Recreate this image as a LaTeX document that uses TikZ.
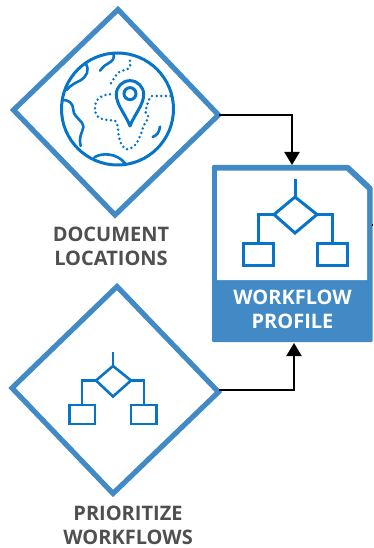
\documentclass[tikz,border=0pt]{standalone}
\usepackage{fontspec}
\setmainfont{Open Sans}
\usetikzlibrary{arrows.meta}
\definecolor{frameblue}{HTML}{428AC6}
\definecolor{iconblue}{HTML}{0674C8}
\definecolor{labelgray}{HTML}{4F4F4F}
\tikzset{
  frame/.style={draw=frameblue,line width=5.2pt,miter limit=10,line join=miter},
  icon/.style={draw=iconblue,line width=3pt,line join=miter,fill=none},
  thinicon/.style={draw=iconblue,line width=2.6pt,line join=miter,fill=none},
  coast/.style={draw=iconblue,line width=2.6pt,line cap=round,line join=round},
  dots/.style={draw=iconblue,line width=2.8pt,line cap=round,dash pattern=on 0pt off 4.6pt},
  link/.style={draw=black,line width=2pt,-{Triangle[length=13pt,width=15pt]}},
  caption/.style={text=labelgray,font=\bfseries\fontsize{20}{24}\selectfont,align=center,inner sep=0pt},
  bandtext/.style={text=white,font=\bfseries\fontsize{20}{24}\selectfont,align=center,inner sep=0pt}
}
\begin{document}
\begin{tikzpicture}[x=1pt,y=-1pt]
\useasboundingbox (0,0) rectangle (373,548);
% diamonds
\coordinate (d1r) at (219,115);
\coordinate (d2r) at (219,389.5);
\draw[frame] (118,9.5) -- (218.5,115) -- (115,215) -- (13.5,110) -- cycle;
\draw[frame] (117,286.5) -- (218.5,392) -- (113,493.5) -- (12,388) -- cycle;
% document
\coordinate (doctop) at (292,165);
\coordinate (docbot) at (294,343);
\fill[frameblue,rounded corners=1pt] (212,165) -- (349,165) -- (372.5,187) -- (372.5,342) -- (212,342) -- cycle;
\fill[white] (217,170.5) -- (346,170.5) -- (367,190) -- (367,280) -- (217,280) -- cycle;
% connectors
\draw[link] (d1r) -- (292,115) -- (doctop);
\draw[link] (d2r) -- (294,389.5) -- (docbot);
\draw[black,line width=2pt] (372,224.5) -- (373,224.5);
% document icon
\draw[icon] (295,179) -- (295,197);
\draw[icon] (295,197) -- (317,214.5) -- (295,233) -- (274,214.5) -- cycle;
\draw[icon] (274,214.5) -- (258,214.5) -- (258,243);
\draw[icon] (317,214.5) -- (332.5,214.5) -- (332.5,243);
\draw[icon] (243.5,243) rectangle (273,265.5);
\draw[icon] (317.5,243) rectangle (347,265.5);
% small icon
\draw[thinicon] (113,352) -- (113,366);
\draw[thinicon] (113,366) -- (131,380.5) -- (113,396.5) -- (96,380.5) -- cycle;
\draw[thinicon] (96,380.5) -- (82,380.5) -- (82,405);
\draw[thinicon] (131,380.5) -- (144,380.5) -- (144,405);
\draw[thinicon] (69.5,405) rectangle (95,424);
\draw[thinicon] (131,405) rectangle (156.5,424);
% globe
\begin{scope}[x=0.33333pt,y=-0.33333pt]
\draw[icon] (352.5,327) circle[radius=168];
\draw[coast] (340,160) .. controls (345,178) and (338,182) .. (322,192) .. controls (312,197) and (305,205) .. (300,212);
\draw[coast] (258,192) .. controls (268,212) and (262,228) .. (240,242) .. controls (222,250) and (210,258) .. (200,270);
\draw[coast] (186,300) .. controls (205,298) and (220,310) .. (220,330) .. controls (222,355) and (250,360) .. (250,382) .. controls (248,395) and (235,410) .. (242,438);
\draw[coast] (283,472) .. controls (305,458) and (350,458) .. (375,490);
\draw[coast] (480,380) .. controls (478,398) and (470,406) .. (458,411);
\draw[dots] (390,182) .. controls (396,212) and (375,208) .. (360,214) .. controls (350,220) and (342,235) .. (333,250);
\draw[dots] (330,283) .. controls (295,285) and (283,305) .. (285,330) .. controls (288,365) and (325,358) .. (345,362) .. controls (362,375) and (345,425) .. (378,448) .. controls (410,448) and (420,410) .. (432,375) .. controls (440,360) and (455,350) .. (436,336) .. controls (440,320) and (445,295) .. (455,288) -- (515,288);
\draw[icon,line join=round] (390,378) .. controls (375,340) and (349,315) .. (349,283) arc[start angle=180,end angle=360,radius=41] .. controls (431,315) and (405,340) .. (390,378) -- cycle;
\draw[icon] (390,281) circle[radius=18];
\end{scope}
% labels
\node[caption] (doclabel) at (111,246) {DOCUMENT\\LOCATIONS};
\node[caption] (prilabel) at (128,525.5) {PRIORITIZE\\WORKFLOWS};
\node[bandtext] (bandlabel) at (292.5,309) {WORKFLOW\\PROFILE};
\end{tikzpicture}
\end{document}
